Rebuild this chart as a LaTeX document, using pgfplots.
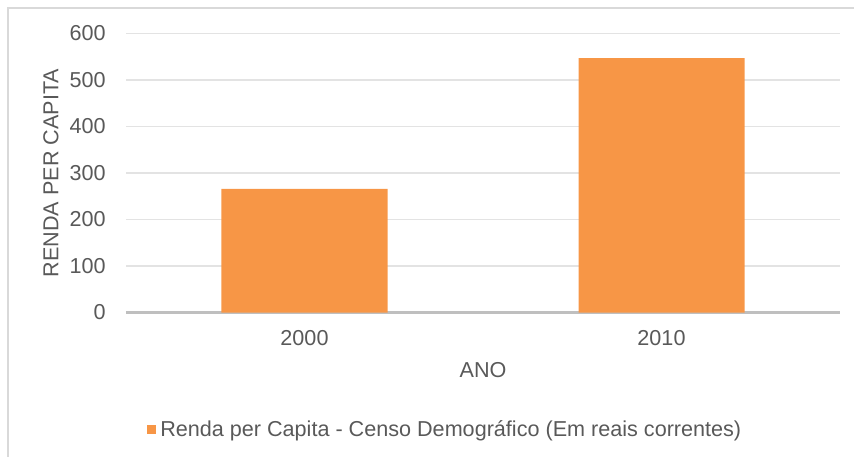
\documentclass[border=0pt]{standalone}
\usepackage{fontspec}
\setmainfont{Liberation Sans}
\usepackage{pgfplots}
\pgfplotsset{compat=1.18}
\definecolor{barorange}{HTML}{F79646}
\definecolor{txtgray}{HTML}{595959}
\definecolor{gridgray}{HTML}{E3E3E3}
\definecolor{axgray}{HTML}{BFBFBF}
\definecolor{framegray}{HTML}{D9D9D9}
\newcommand{\cf}{\fontsize{16.2}{19}\selectfont}
\begin{document}
\begin{tikzpicture}
\useasboundingbox (0,0) rectangle (640.5pt,-342.75pt);
\draw[framegray, line width=1.2pt] (6pt,-700pt) -- (6pt,-6pt) -- (700pt,-6pt);
\begin{axis}[
  at={(94.5pt,-234.375pt)}, anchor=south west,
  scale only axis, width=535.5pt, height=209.25pt,
  xmin=-0.5, xmax=1.5, ymin=0, ymax=600,
  xtick={0,1}, xticklabels={2000,2010},
  ytick={100,200,...,600},
  extra y ticks={0},
  extra y tick style={grid style={draw=axgray, line width=1.6pt}},
  ymajorgrids, grid style={draw=gridgray, line width=0.9pt},
  axis line style={draw=none},
  major tick length=0pt,
  tick label style={font=\cf, text=txtgray},
  /pgf/number format/assume math mode=true,
  xticklabel style={anchor=base, yshift=-25.1pt},
  yticklabel style={anchor=east, inner sep=0pt, xshift=-15pt},
  xlabel={ANO}, ylabel={RENDA PER CAPITA},
  label style={font=\cf, text=txtgray},
  xlabel style={at={(axis description cs:0.5,0)}, anchor=center, yshift=-43.1pt},
  ylabel style={at={(axis description cs:-0.105,0.5)}, anchor=center, rotate=0},
  legend style={at={(axis description cs:0.0294,-0.421)}, anchor=west, draw=none, fill=none, inner sep=0pt, font=\cf, text=txtgray, column sep=0pt, nodes={inner sep=3pt}},
  legend cell align=left,
  legend image code/.code={\fill[barorange] (0pt,-3.4pt) rectangle (6.75pt,3.4pt);},
]
\addplot[ybar, bar width=124.5pt, fill=barorange, draw=none] coordinates {(0,266) (1,547)};
\addlegendentry{Renda per Capita - Censo Demográfico (Em reais correntes)}
\end{axis}
\end{tikzpicture}
\end{document}
